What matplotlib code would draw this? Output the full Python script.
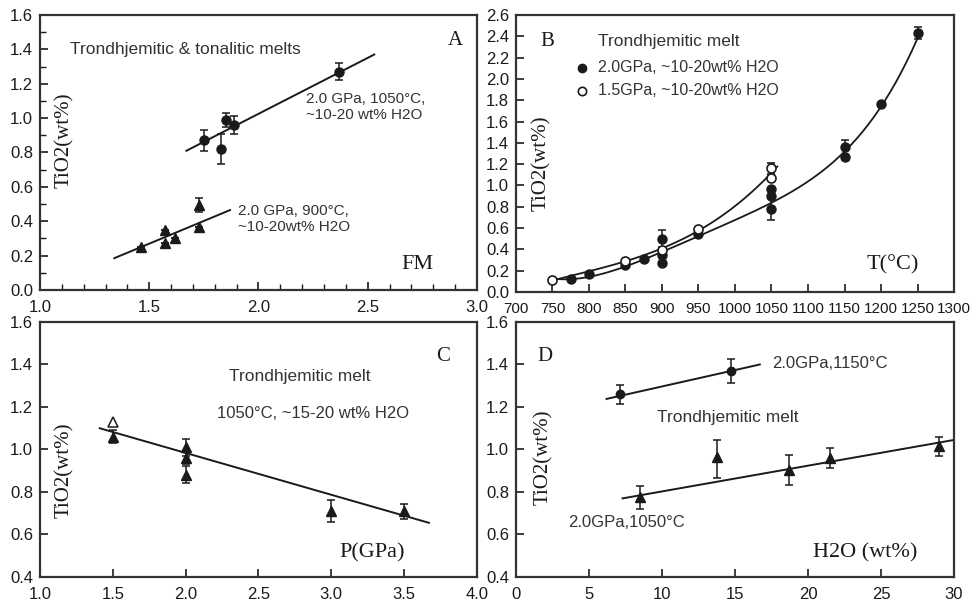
import numpy as np
import matplotlib
matplotlib.use("Agg")
import matplotlib.pyplot as plt
from matplotlib.ticker import MultipleLocator, FormatStrFormatter

# ---- panel A: TiO2 vs FM
a_c_fm = [1.75, 1.85, 1.83, 1.89, 2.37]
a_c_ti = [0.87, 0.99, 0.82, 0.96, 1.27]
a_c_err = [0.06, 0.04, 0.085, 0.05, 0.05]
a_t_fm = [1.46, 1.57, 1.57, 1.62, 1.73, 1.73]
a_t_ti = [0.25, 0.35, 0.275, 0.30, 0.495, 0.365]
a_t_err = [0, 0, 0, 0, 0.04, 0]
a_c_line_x = [1.67, 2.53]
a_c_line_y = [0.81, 1.37]
a_t_line_x = [1.34, 1.87]
a_t_line_y = [0.185, 0.465]

# ---- panel B: TiO2 vs T
b_fill_T = [775, 800, 850, 875, 900, 900, 900, 950, 1050, 1050, 1050, 1150, 1150, 1200, 1250]
b_fill_ti = [0.12, 0.17, 0.25, 0.31, 0.50, 0.345, 0.27, 0.54, 0.97, 0.90, 0.78, 1.36, 1.27, 1.76, 2.43]
b_fill_err = [0, 0, 0, 0, 0.08, 0, 0, 0, 0, 0, 0.1, 0.07, 0, 0, 0.06]
b_open_T = [750, 850, 900, 950, 1050, 1050]
b_open_ti = [0.11, 0.29, 0.39, 0.59, 1.07, 1.16]
b_open_err = [0, 0, 0, 0, 0, 0.05]
b_lo_T = [750, 800, 850, 900, 950, 1000, 1050, 1100, 1150, 1200, 1250]
b_lo_ti = [0.11, 0.17, 0.255, 0.35, 0.50, 0.67, 0.86, 1.07, 1.31, 1.70, 2.40]
b_up_T = [750, 800, 850, 900, 950, 1000, 1058]
b_up_ti = [0.11, 0.19, 0.29, 0.41, 0.58, 0.80, 1.18]

# ---- panel C: TiO2 vs P
c_p = [1.5, 2.0, 2.0, 2.0, 3.0, 3.5]
c_ti = [1.06, 1.01, 0.96, 0.88, 0.71, 0.71]
c_err = [0.03, 0.04, 0.03, 0.04, 0.05, 0.035]
c_open_p = [1.5]
c_open_ti = [1.13]
c_line_p = [1.41, 3.67]
c_line_ti = [1.10, 0.655]

# ---- panel D: TiO2 vs H2O
d_c_h2o = [7.1, 14.7]
d_c_ti = [1.26, 1.37]
d_c_err = [0.045, 0.055]
d_c_line_x = [6.2, 16.7]
d_c_line_y = [1.238, 1.40]
d_t_h2o = [8.5, 13.8, 18.7, 21.5, 29.0]
d_t_ti = [0.775, 0.965, 0.905, 0.96, 1.015]
d_t_err_lo = [0.055, 0.10, 0.07, 0.045, 0.045]
d_t_err_hi = [0.055, 0.08, 0.07, 0.045, 0.045]
d_t_line_x = [7.3, 30]
d_t_line_y = [0.77, 1.045]

INK = "#1a1a1a"
TXT = "#333333"
SANS = ["Liberation Sans Narrow", "Liberation Sans", "DejaVu Sans"]
ARIAL = ["Liberation Sans", "DejaVu Sans"]
SERIF = ["Liberation Serif", "DejaVu Serif"]

plt.rcParams["font.family"] = SANS
plt.rcParams["axes.edgecolor"] = "#333333"

fig = plt.figure(figsize=(9.71, 6.04), dpi=100)
axA = fig.add_axes([0.0412, 0.5199, 0.450, 0.4553])
axB = fig.add_axes([0.5314, 0.5166, 0.4511, 0.4586])
axC = fig.add_axes([0.0412, 0.0447, 0.450, 0.4222])
axD = fig.add_axes([0.5314, 0.0447, 0.4511, 0.4222])


def style(ax, xlim, ylim, xmaj, ymaj, xmin=None, ymin=None):
    ax.set_xlim(*xlim)
    ax.set_ylim(*ylim)
    ax.xaxis.set_major_locator(MultipleLocator(xmaj))
    ax.yaxis.set_major_locator(MultipleLocator(ymaj))
    if xmin:
        ax.xaxis.set_minor_locator(MultipleLocator(xmin))
    if ymin:
        ax.yaxis.set_minor_locator(MultipleLocator(ymin))
    ax.tick_params(which="major", direction="in", length=6, width=1.2,
                   labelsize=12, colors=INK, pad=7)
    ax.tick_params(which="minor", direction="in", length=4, width=1.0, colors=INK)
    ax.tick_params(axis="y", pad=5)
    for s in ax.spines.values():
        s.set_linewidth(1.6)


def ylab(ax, x, y):
    ax.text(x, y, "TiO2(wt%)", transform=ax.transAxes, rotation=90,
            ha="center", va="center", fontsize=15, family=SERIF, color=INK)


def note(ax, x, y, s, ha="left", size=12, **kw):
    ax.text(x, y, s, transform=ax.transAxes, ha=ha, va="center",
            fontsize=size, family=ARIAL, color=TXT, **kw)


def tag(ax, x, y, s, size=15):
    ax.text(x, y, s, transform=ax.transAxes, ha="center", va="center",
            fontsize=size, family=SERIF, color=INK)


ebar = dict(color=INK, ecolor=INK, elinewidth=1.1, capsize=3, capthick=1.1,
            linestyle="none")

# ---- A
style(axA, (1.0, 3.0), (0.0, 1.6), 0.5, 0.2, 0.1, 0.1)
axA.xaxis.set_major_formatter(FormatStrFormatter("%.1f"))
axA.yaxis.set_major_formatter(FormatStrFormatter("%.1f"))
axA.plot(a_c_line_x, a_c_line_y, color=INK, lw=1.4)
axA.plot(a_t_line_x, a_t_line_y, color=INK, lw=1.4)
axA.errorbar(a_c_fm, a_c_ti, yerr=a_c_err, fmt="o", ms=6.5, **ebar)
axA.errorbar(a_t_fm, a_t_ti, yerr=a_t_err, fmt="^", ms=7, **ebar)
note(axA, 0.069, 0.873, "Trondhjemitic & tonalitic melts", size=12.5)
tag(axA, 0.95, 0.909, "A")
tag(axA, 0.863, 0.091, "FM", size=16)
note(axA, 0.609, 0.664, "2.0 GPa, 1050°C,\n~10-20 wt% H2O", size=11, linespacing=1.2)
note(axA, 0.453, 0.258, "2.0 GPa, 900°C,\n~10-20wt% H2O", size=11, linespacing=1.2)
ylab(axA, 0.057, 0.545)

# ---- B
style(axB, (700, 1300), (0.0, 2.6), 50, 0.2)
axB.yaxis.set_major_formatter(FormatStrFormatter("%.1f"))
axB.tick_params(axis="x", labelsize=11)
lo_fit = np.polyfit(b_lo_T, b_lo_ti, 4)
up_fit = np.polyfit(b_up_T, b_up_ti, 3)
t_lo = np.linspace(b_lo_T[0], b_lo_T[-1], 200)
t_up = np.linspace(b_up_T[0], b_up_T[-1], 200)
axB.plot(t_lo, np.polyval(lo_fit, t_lo), color=INK, lw=1.3)
axB.plot(t_up, np.polyval(up_fit, t_up), color=INK, lw=1.3)
axB.errorbar(b_fill_T, b_fill_ti, yerr=b_fill_err, fmt="o", ms=6.5, **ebar)
axB.errorbar(b_open_T, b_open_ti, yerr=b_open_err, fmt="o", ms=6.5,
             markerfacecolor="white", markeredgewidth=1.2, **ebar)
tag(axB, 0.071, 0.903, "B")
note(axB, 0.187, 0.906, "Trondhjemitic melt", size=12.5)
axB.plot([0.151], [0.809], "o", ms=6, color=INK, transform=axB.transAxes)
axB.plot([0.151], [0.726], "o", ms=6, color=INK, markerfacecolor="white",
         markeredgewidth=1.2, transform=axB.transAxes)
note(axB, 0.187, 0.809, "2.0GPa, ~10-20wt% H2O", size=11.5)
note(axB, 0.187, 0.726, "1.5GPa, ~10-20wt% H2O", size=11.5)
tag(axB, 0.861, 0.097, "T(°C)", size=16)
ylab(axB, 0.059, 0.466)

# ---- C
style(axC, (1.0, 4.0), (0.4, 1.6), 0.5, 0.2)
axC.xaxis.set_major_formatter(FormatStrFormatter("%.1f"))
axC.yaxis.set_major_formatter(FormatStrFormatter("%.1f"))
axC.plot(c_line_p, c_line_ti, color=INK, lw=1.4)
axC.errorbar(c_p, c_ti, yerr=c_err, fmt="^", ms=7, **ebar)
axC.plot(c_open_p, c_open_ti, "^", ms=6.5, color=INK, markerfacecolor="white",
         markeredgewidth=1.1)
tag(axC, 0.922, 0.863, "C")
note(axC, 0.595, 0.788, "Trondhjemitic melt", ha="center", size=12.5)
note(axC, 0.625, 0.643, "1050°C, ~15-20 wt% H2O", ha="center", size=12)
tag(axC, 0.76, 0.094, "P(GPa)", size=16)
ylab(axC, 0.057, 0.420)

# ---- D
style(axD, (0, 30), (0.4, 1.6), 5, 0.2)
axD.yaxis.set_major_formatter(FormatStrFormatter("%.1f"))
axD.plot(d_c_line_x, d_c_line_y, color=INK, lw=1.4)
axD.plot(d_t_line_x, d_t_line_y, color=INK, lw=1.4)
axD.errorbar(d_c_h2o, d_c_ti, yerr=d_c_err, fmt="o", ms=6, **ebar)
axD.errorbar(d_t_h2o, d_t_ti, yerr=[d_t_err_lo, d_t_err_hi], fmt="^", ms=7, **ebar)
tag(axD, 0.066, 0.863, "D")
note(axD, 0.584, 0.839, "2.0GPa,1150°C", size=12)
note(axD, 0.484, 0.624, "Trondhjemitic melt", ha="center", size=12.5)
note(axD, 0.253, 0.212, "2.0GPa,1050°C", ha="center", size=12)
tag(axD, 0.797, 0.094, "H2O (wt%)", size=16)
ylab(axD, 0.062, 0.47)

fig.savefig("out.png", dpi=100)
